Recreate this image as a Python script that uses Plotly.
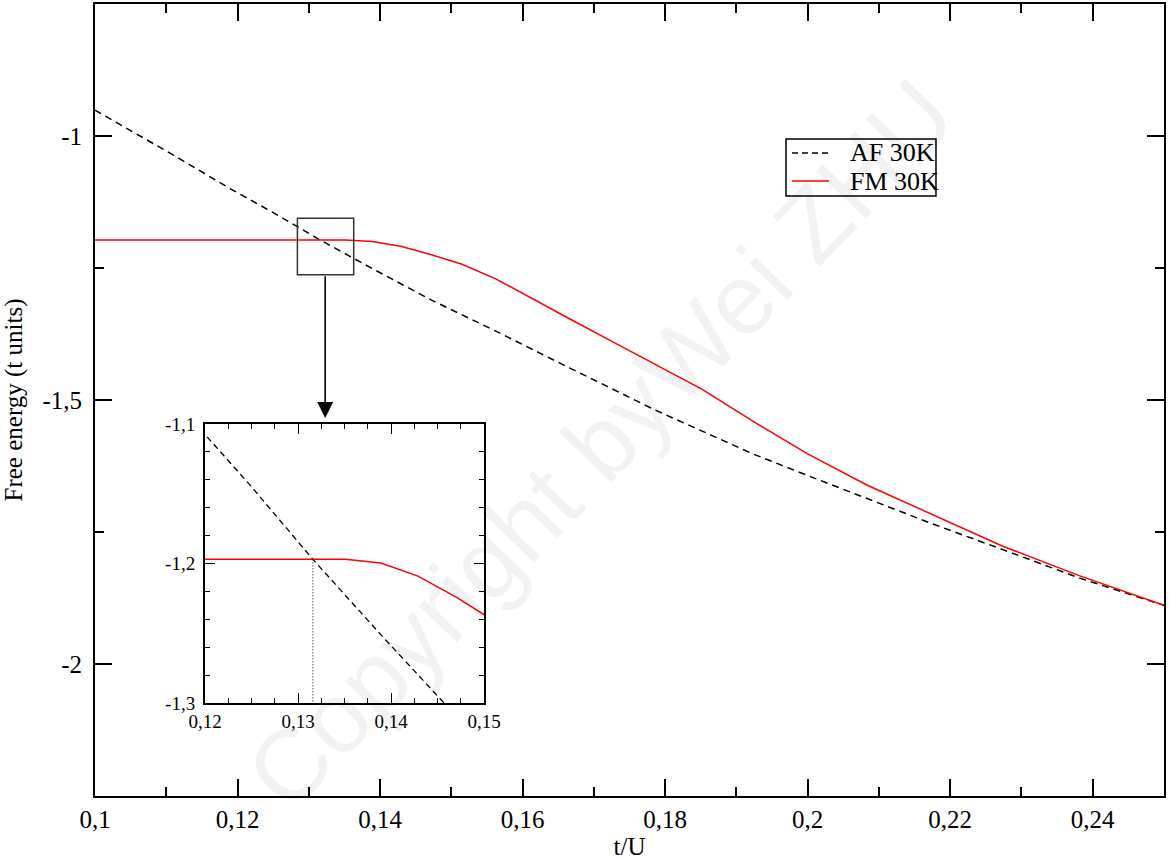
import plotly.graph_objects as go

# ---- data ----
af_x = [0.1000, 0.1111, 0.1190, 0.1250, 0.1316, 0.1389, 0.1471, 0.1563, 0.1667,
        0.1786, 0.1852, 0.1923, 0.2000, 0.2083, 0.2174, 0.2273, 0.2381, 0.2500]
af_y = [-0.951, -1.037, -1.100, -1.145, -1.197, -1.251, -1.310, -1.370, -1.440,
        -1.519, -1.559, -1.602, -1.643, -1.687, -1.734, -1.783, -1.837, -1.889]

fm_x = [0.1000, 0.1316, 0.1351, 0.1389, 0.1429, 0.1471, 0.1515, 0.1563, 0.1613, 0.1667,
        0.1724, 0.1786, 0.1852, 0.1923, 0.2000, 0.2083, 0.2174, 0.2273, 0.2381, 0.2500]
fm_y = [-1.197, -1.197, -1.197, -1.1996, -1.209, -1.2245, -1.243, -1.271, -1.308, -1.347,
        -1.388, -1.432, -1.480, -1.540, -1.602, -1.661, -1.717, -1.7765, -1.8327, -1.889]

crossing_x = [0.1316, 0.1316]
crossing_y = [-1.197, -1.300]

series_names = ["AF 30K", "FM 30K"]

main_xticks = [0.10, 0.12, 0.14, 0.16, 0.18, 0.20, 0.22, 0.24]
main_xticklabels = ["0,1", "0,12", "0,14", "0,16", "0,18", "0,2", "0,22", "0,24"]
main_xminor = [0.11, 0.13, 0.15, 0.17, 0.19, 0.21, 0.23, 0.25]
main_yticks = [-2.0, -1.5, -1.0]
main_yticklabels = ["-2", "-1,5", "-1"]
main_yminor = [-2.25, -1.75, -1.25, -0.75]

inset_xticks = [0.12, 0.13, 0.14, 0.15]
inset_xticklabels = ["0,12", "0,13", "0,14", "0,15"]
inset_xminor = [0.1225, 0.125, 0.1275, 0.1325, 0.135, 0.1375, 0.1425, 0.145, 0.1475]
inset_yticks = [-1.3, -1.2, -1.1]
inset_yticklabels = ["-1,3", "-1,2", "-1,1"]
inset_yminor = [-1.28, -1.26, -1.24, -1.22, -1.18, -1.16, -1.14, -1.12]

# zoom box and arrow (data coordinates)
box_x = [0.1284, 0.1363]
box_y = [-1.263, -1.156]
arrow_x = 0.1323
arrow_tip_y = -1.534

FONT = "Liberation Serif"
AF_STYLE = dict(color="black", width=1.5, dash="7px,5px")
FM_STYLE = dict(color="red", width=1.5)

fig = go.Figure()

fig.add_trace(go.Scatter(x=af_x, y=af_y, mode="lines", name=series_names[0],
                         showlegend=False, line=AF_STYLE))
fig.add_trace(go.Scatter(x=fm_x, y=fm_y, mode="lines", name=series_names[1],
                         showlegend=False, line=FM_STYLE))

# inset
fig.add_trace(go.Scatter(x=af_x, y=af_y, mode="lines", showlegend=False, name=series_names[0],
                         xaxis="x2", yaxis="y2",
                         line=dict(color="black", width=1.3, dash="6px,4px")))
fig.add_trace(go.Scatter(x=fm_x, y=fm_y, mode="lines", showlegend=False, name=series_names[1],
                         xaxis="x2", yaxis="y2", line=FM_STYLE))
fig.add_trace(go.Scatter(x=crossing_x, y=crossing_y, mode="lines", showlegend=False,
                         xaxis="x2", yaxis="y2",
                         line=dict(color="black", width=1, dash="1px,2px")))

axis_common = dict(showgrid=False, zeroline=False, showline=True, linecolor="black",
                   mirror="ticks", ticks="inside", tickcolor="black", automargin=False)

fig.update_layout(
    template="none",
    width=1169, height=860,
    margin=dict(l=95, r=5, t=4, b=64, autoexpand=False),
    paper_bgcolor="white", plot_bgcolor="white",
    font=dict(family=FONT, color="black", size=24),
    showlegend=False,
    xaxis=dict(**axis_common, range=[0.1, 0.25], linewidth=2, ticklen=17, tickwidth=1.5,
               tickmode="array", tickvals=main_xticks, ticktext=main_xticklabels,
               minor=dict(tickmode="array", tickvals=main_xminor, ticks="inside",
                          ticklen=9, tickwidth=1.5, tickcolor="black"),
               tickfont=dict(size=25, family=FONT),
               title=dict(text="t/U", font=dict(size=25, family=FONT), standoff=4)),
    yaxis=dict(**axis_common, range=[-2.25, -0.75], linewidth=2, ticklen=17, tickwidth=1.5,
               tickmode="array", tickvals=main_yticks, ticktext=main_yticklabels,
               minor=dict(tickmode="array", tickvals=main_yminor, ticks="inside",
                          ticklen=9, tickwidth=1.5, tickcolor="black"),
               tickfont=dict(size=25, family=FONT), ticklabelstandoff=6,
               title=dict(text="Free energy (t units)", font=dict(size=25, family=FONT),
                          standoff=14)),
    xaxis2=dict(**axis_common, domain=[0.1029, 0.3639], anchor="y2", range=[0.12, 0.15],
                linewidth=2, ticklen=10, tickwidth=1.2,
                tickmode="array", tickvals=inset_xticks, ticktext=inset_xticklabels,
                minor=dict(tickmode="array", tickvals=inset_xminor, ticks="inside",
                           ticklen=5, tickwidth=1.2, tickcolor="black"),
                tickfont=dict(size=19, family=FONT)),
    yaxis2=dict(**axis_common, domain=[0.1174, 0.4697], anchor="x2", range=[-1.3, -1.1],
                linewidth=2, ticklen=10, tickwidth=1.2,
                tickmode="array", tickvals=inset_yticks, ticktext=inset_yticklabels,
                minor=dict(tickmode="array", tickvals=inset_yminor, ticks="inside",
                           ticklen=5, tickwidth=1.2, tickcolor="black"),
                tickfont=dict(size=19, family=FONT), ticklabelstandoff=4),
)

# zoom box
fig.add_shape(type="rect", xref="x", yref="y", x0=box_x[0], x1=box_x[1],
              y0=box_y[0], y1=box_y[1], line=dict(color="#333333", width=1.5),
              fillcolor="rgba(0,0,0,0)")

# arrow from box down to inset
fig.add_annotation(x=arrow_x, y=arrow_tip_y, ax=arrow_x, ay=box_y[0],
                   xref="x", yref="y", axref="x", ayref="y", text="",
                   showarrow=True, arrowhead=2, arrowsize=2, arrowwidth=1.6,
                   arrowcolor="black", standoff=0, startstandoff=0)

# legend (box, line samples, labels) in paper coordinates
LEG_X0, LEG_X1, LEG_Y0, LEG_Y1 = 0.6464, 0.7867, 0.7576, 0.8295
SAMPLE_X0, SAMPLE_X1, LABEL_X = 0.6520, 0.6866, 0.7044
ROW_Y = [0.8119, 0.7765]
fig.add_shape(type="rect", xref="paper", yref="paper", x0=LEG_X0, x1=LEG_X1,
              y0=LEG_Y0, y1=LEG_Y1, line=dict(color="black", width=1.5),
              fillcolor="white", layer="above")
for name, style, ry in zip(series_names, [dict(color="black", width=1.5, dash="6px,4px"),
                                          FM_STYLE], ROW_Y):
    fig.add_shape(type="line", xref="paper", yref="paper", x0=SAMPLE_X0, x1=SAMPLE_X1,
                  y0=ry, y1=ry, line=style, layer="above")
    fig.add_annotation(x=LABEL_X, y=ry, xref="paper", yref="paper", text=name,
                       showarrow=False, xanchor="left", yanchor="middle",
                       font=dict(family=FONT, size=26, color="black"))

# watermark
fig.add_annotation(x=0.472, y=0.445, xref="paper", yref="paper",
                   text="Copyright byWei ZHU", showarrow=False, textangle=-46,
                   font=dict(family="Liberation Sans", size=100, color="rgba(0,0,0,0.05)"))

fig.write_html("out.html")
